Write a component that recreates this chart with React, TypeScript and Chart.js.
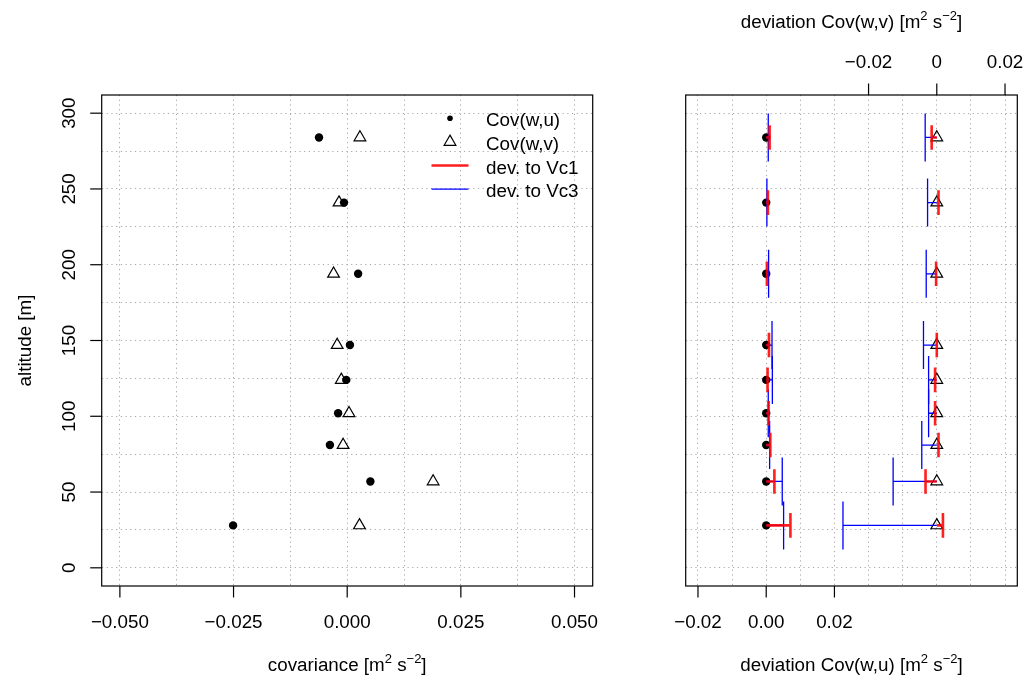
import React, { useEffect, useRef } from 'react';
import { Chart, registerables } from 'chart.js';

Chart.register(...registerables);

// ---------------- data ----------------
const altitude = [284, 241, 194, 147, 124, 102, 81, 57, 28];
const covWU = [-0.0062, -0.0007, 0.0024, 0.0006, -0.0002, -0.002, -0.0038, 0.0051, -0.0251];
const covWV = [0.0028, -0.0018, -0.003, -0.0022, -0.0013, 0.0004, -0.0009, 0.0189, 0.0027];

const devRefWU = [0, 0, 0, 0, 0, 0, 0, 0, 0];
const devRefWV = [0, 0, 0, 0, 0, 0, 0, 0, 0];
const devWU_Vc1 = [0.001, 0.0005, 0.0002, 0.0008, 0.0004, 0.0007, 0.0012, 0.0024, 0.0071];
const devWU_Vc3 = [0.0006, 0.0002, 0.0007, 0.0017, 0.0018, 0.0006, 0.001, 0.0047, 0.0051];
const devWV_Vc1 = [-0.0015, 0.0005, -0.0002, 0.0, -0.0005, -0.0005, 0.0005, -0.0033, 0.0018];
const devWV_Vc3 = [-0.0034, -0.0027, -0.0031, -0.0039, -0.0024, -0.0024, -0.0044, -0.0128, -0.0275];

const leftXTicks = [-0.05, -0.025, 0, 0.025, 0.05];
const leftXLabels = ['\u22120.050', '\u22120.025', '0.000', '0.025', '0.050'];
const yTicks = [0, 50, 100, 150, 200, 250, 300];
const yLabels = ['0', '50', '100', '150', '200', '250', '300'];
const rightBottomTicks = [-0.02, 0, 0.02];
const rightBottomLabels = ['\u22120.02', '0.00', '0.02'];
const rightTopTicks = [-0.02, 0, 0.02];
const rightTopLabels = ['\u22120.02', '0', '0.02'];
const legendLabels = ['Cov(w,u)', 'Cov(w,v)', 'dev. to Vc1', 'dev. to Vc3'];

// axis ranges
const leftXMin = -0.054;
const leftXMax = 0.054;
const yMin = -12;
const yMax = 312;
const rightXMin = -0.0236;
const rightXMax = 0.0736;
const vAxisOffset = 0.05;

// ---------------- styles ----------------
const FONT = '"Liberation Sans", Arial, Helvetica, sans-serif';
const FS = 18.8;
const SUP_FS = 13;
const GRID_COLOR = '#a8a8a8';
const GRID_DASH = [1.2, 3.5];
const RED = 'rgba(255,0,0,0.88)';
const BLUE = '#0000ff';
const TICK_LEN = 11.5;
const W = 1027;
const H = 678;

function text(ctx: CanvasRenderingContext2D, t: string, x: number, y: number, align: CanvasTextAlign = 'center', size = FS) {
  ctx.font = `${size}px ${FONT}`;
  ctx.textAlign = align;
  ctx.textBaseline = 'alphabetic';
  ctx.fillStyle = '#000';
  ctx.fillText(t, x, y);
}

function unitTitle(ctx: CanvasRenderingContext2D, prefix: string, cx: number, baseline: number) {
  const parts = [
    { t: prefix + ' [m', sup: false },
    { t: '2', sup: true },
    { t: ' s', sup: false },
    { t: '\u22122', sup: true },
    { t: ']', sup: false },
  ];
  let total = 0;
  const widths = parts.map((p) => {
    ctx.font = `${p.sup ? SUP_FS : FS}px ${FONT}`;
    const w = ctx.measureText(p.t).width;
    total += w;
    return w;
  });
  let x = cx - total / 2;
  parts.forEach((p, i) => {
    text(ctx, p.t, x, p.sup ? baseline - 8 : baseline, 'left', p.sup ? SUP_FS : FS);
    x += widths[i];
  });
}

function box(ctx: CanvasRenderingContext2D, a: any) {
  ctx.save();
  ctx.strokeStyle = '#000';
  ctx.lineWidth = 1.2;
  ctx.strokeRect(a.left, a.top, a.right - a.left, a.bottom - a.top);
  ctx.restore();
}

function tickLine(ctx: CanvasRenderingContext2D, x1: number, y1: number, x2: number, y2: number) {
  ctx.save();
  ctx.strokeStyle = '#000';
  ctx.lineWidth = 1.2;
  ctx.beginPath();
  ctx.moveTo(x1, y1);
  ctx.lineTo(x2, y2);
  ctx.stroke();
  ctx.restore();
}

function hiddenScale(extra: any) {
  return {
    type: 'linear',
    ticks: { display: false, includeBounds: false, ...(extra.ticks || {}) },
    grid: { color: GRID_COLOR, lineWidth: 1, drawTicks: false, ...(extra.grid || {}) },
    border: { display: false, dash: GRID_DASH },
    title: { display: false },
    min: extra.min,
    max: extra.max,
    position: extra.position,
  };
}

const leftPlugin = {
  id: 'leftDecor',
  afterDraw(chart: any) {
    const ctx: CanvasRenderingContext2D = chart.ctx;
    const a = chart.chartArea;
    const xs = chart.scales.x;
    const ys = chart.scales.y;
    box(ctx, a);
    // bottom axis
    leftXTicks.forEach((v, i) => {
      const x = xs.getPixelForValue(v);
      tickLine(ctx, x, a.bottom, x, a.bottom + TICK_LEN);
      text(ctx, leftXLabels[i], x, a.bottom + 42);
    });
    unitTitle(ctx, 'covariance', (a.left + a.right) / 2, a.bottom + 85);
    // left axis
    yTicks.forEach((v, i) => {
      const y = ys.getPixelForValue(v);
      tickLine(ctx, a.left, y, a.left - TICK_LEN, y);
      ctx.save();
      ctx.translate(a.left - 26.7, y);
      ctx.rotate(-Math.PI / 2);
      text(ctx, yLabels[i], 0, 0);
      ctx.restore();
    });
    ctx.save();
    ctx.translate(a.left - 71.2, (a.top + a.bottom) / 2);
    ctx.rotate(-Math.PI / 2);
    text(ctx, 'altitude [m]', 0, 0);
    ctx.restore();
    // legend
    const sx = 450;
    const tx = 486;
    const y0 = 118.3;
    const dy = 23.6;
    ctx.save();
    // filled dot
    ctx.fillStyle = '#000';
    ctx.beginPath();
    ctx.arc(sx, y0, 2.8, 0, Math.PI * 2);
    ctx.fill();
    // open triangle
    const r = 6.75;
    const ty = y0 + dy;
    ctx.strokeStyle = '#000';
    ctx.lineWidth = 1.2;
    ctx.beginPath();
    ctx.moveTo(sx, ty - r);
    ctx.lineTo(sx + 0.866 * r, ty + 0.5 * r);
    ctx.lineTo(sx - 0.866 * r, ty + 0.5 * r);
    ctx.closePath();
    ctx.stroke();
    // red line
    ctx.strokeStyle = RED;
    ctx.lineWidth = 2.6;
    ctx.beginPath();
    ctx.moveTo(sx - 18.5, y0 + 2 * dy);
    ctx.lineTo(sx + 18.5, y0 + 2 * dy);
    ctx.stroke();
    // blue line
    ctx.strokeStyle = BLUE;
    ctx.lineWidth = 1.3;
    ctx.beginPath();
    ctx.moveTo(sx - 18.5, y0 + 3 * dy);
    ctx.lineTo(sx + 18.5, y0 + 3 * dy);
    ctx.stroke();
    ctx.restore();
    legendLabels.forEach((l, i) => text(ctx, l, tx, y0 + i * dy + 8, 'left'));
  },
};

const rightPlugin = {
  id: 'rightDecor',
  afterDatasetsDraw(chart: any) {
    const ctx: CanvasRenderingContext2D = chart.ctx;
    const xs = chart.scales.x;
    const x2 = chart.scales.x2;
    const ys = chart.scales.y;
    const bar = (scale: any, ref: number, dev: number, alt: number, color: string, lw: number, cap: number) => {
      const x0 = scale.getPixelForValue(ref);
      const x1 = scale.getPixelForValue(ref + dev);
      const y = ys.getPixelForValue(alt);
      ctx.strokeStyle = color;
      ctx.lineWidth = lw;
      ctx.beginPath();
      ctx.moveTo(x0, y);
      ctx.lineTo(x1, y);
      ctx.moveTo(x1, y - cap);
      ctx.lineTo(x1, y + cap);
      ctx.stroke();
    };
    ctx.save();
    altitude.forEach((alt, i) => {
      bar(xs, devRefWU[i], devWU_Vc3[i], alt, BLUE, 1.3, 24);
      bar(x2, devRefWV[i], devWV_Vc3[i], alt, BLUE, 1.3, 24);
    });
    altitude.forEach((alt, i) => {
      bar(xs, devRefWU[i], devWU_Vc1[i], alt, RED, 2.6, 12.3);
      bar(x2, devRefWV[i], devWV_Vc1[i], alt, RED, 2.6, 12.3);
    });
    ctx.restore();
  },
  afterDraw(chart: any) {
    const ctx: CanvasRenderingContext2D = chart.ctx;
    const a = chart.chartArea;
    const xs = chart.scales.x;
    const x2 = chart.scales.x2;
    box(ctx, a);
    rightBottomTicks.forEach((v, i) => {
      const x = xs.getPixelForValue(v);
      tickLine(ctx, x, a.bottom, x, a.bottom + TICK_LEN);
      text(ctx, rightBottomLabels[i], x, a.bottom + 42);
    });
    unitTitle(ctx, 'deviation Cov(w,u)', (a.left + a.right) / 2, a.bottom + 85);
    rightTopTicks.forEach((v, i) => {
      const x = x2.getPixelForValue(v);
      tickLine(ctx, x, a.top, x, a.top - TICK_LEN);
      text(ctx, rightTopLabels[i], x, a.top - 26.7);
    });
    unitTitle(ctx, 'deviation Cov(w,v)', (a.left + a.right) / 2, a.top - 66.7);
  },
};

const commonOptions = {
  responsive: false,
  animation: false,
  events: [],
  plugins: { legend: { display: false }, tooltip: { enabled: false } },
};

export default function App() {
  const leftRef = useRef<HTMLCanvasElement>(null);
  const rightRef = useRef<HTMLCanvasElement>(null);

  useEffect(() => {
    document.body.style.margin = '0';
    const left = new Chart(leftRef.current as HTMLCanvasElement, {
      type: 'scatter',
      data: {
        datasets: [
          {
            label: legendLabels[0],
            data: altitude.map((a, i) => ({ x: covWU[i], y: a })),
            pointStyle: 'circle',
            pointRadius: 4.2,
            pointBackgroundColor: '#000',
            pointBorderColor: '#000',
            pointBorderWidth: 0,
          },
          {
            label: legendLabels[1],
            data: altitude.map((a, i) => ({ x: covWV[i], y: a })),
            pointStyle: 'triangle',
            pointRadius: 6.75,
            pointBackgroundColor: 'rgba(0,0,0,0)',
            pointBorderColor: '#000',
            pointBorderWidth: 1.2,
          },
        ],
      },
      options: {
        ...commonOptions,
        layout: { autoPadding: false, padding: { left: 101.7, top: 95, right: W - 592.7, bottom: H - 586 } },
        scales: {
          x: hiddenScale({ min: leftXMin, max: leftXMax, position: 'bottom', ticks: { stepSize: 0.0125 } }),
          y: hiddenScale({ min: yMin, max: yMax, position: 'left', ticks: { stepSize: 25 } }),
        },
      } as any,
      plugins: [leftPlugin],
    } as any);

    const right = new Chart(rightRef.current as HTMLCanvasElement, {
      type: 'scatter',
      data: {
        datasets: [
          {
            label: legendLabels[0],
            data: altitude.map((a, i) => ({ x: devRefWU[i], y: a })),
            xAxisID: 'x',
            pointStyle: 'circle',
            pointRadius: 4.2,
            pointBackgroundColor: '#000',
            pointBorderColor: '#000',
            pointBorderWidth: 0,
          },
          {
            label: legendLabels[1],
            data: altitude.map((a, i) => ({ x: devRefWV[i], y: a })),
            xAxisID: 'x2',
            pointStyle: 'triangle',
            pointRadius: 6.75,
            pointBackgroundColor: 'rgba(0,0,0,0)',
            pointBorderColor: '#000',
            pointBorderWidth: 1.2,
          },
        ],
      },
      options: {
        ...commonOptions,
        layout: { autoPadding: false, padding: { left: 685.7, top: 95, right: W - 1017.3, bottom: H - 586 } },
        scales: {
          x: hiddenScale({ min: rightXMin, max: rightXMax, position: 'bottom', ticks: { stepSize: 0.01 } }),
          x2: hiddenScale({
            min: rightXMin - vAxisOffset,
            max: rightXMax - vAxisOffset,
            position: 'top',
            ticks: { stepSize: 0.01 },
            grid: { display: false },
          }),
          y: hiddenScale({ min: yMin, max: yMax, position: 'left', ticks: { stepSize: 25 } }),
        },
      } as any,
      plugins: [rightPlugin],
    } as any);

    return () => {
      left.destroy();
      right.destroy();
    };
  }, []);

  return (
    <div style={{ position: 'absolute', left: 0, top: 0, width: W, height: H, background: '#fff' }}>
      <canvas ref={leftRef} width={W} height={H} style={{ position: 'absolute', left: 0, top: 0 }} />
      <canvas ref={rightRef} width={W} height={H} style={{ position: 'absolute', left: 0, top: 0 }} />
    </div>
  );
}
